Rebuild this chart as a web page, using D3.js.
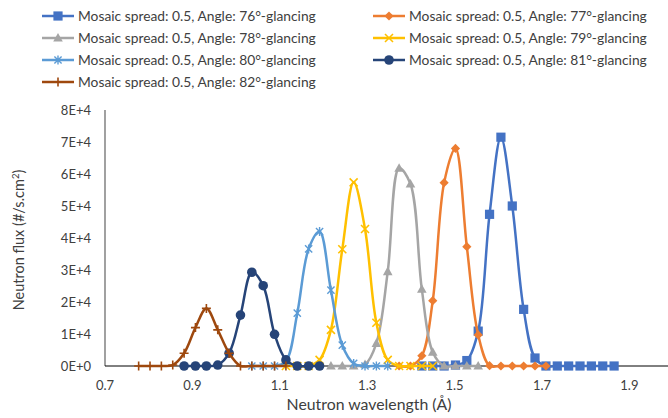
<!DOCTYPE html>
<html>
<head>
<meta charset="utf-8">
<script src="https://cdn.jsdelivr.net/npm/d3@7"></script>
<style>
  html, body { margin: 0; padding: 0; background: #fff; }
  svg { display: block; font-family: Lato, "Open Sans", "Liberation Sans", sans-serif; }
</style>
</head>
<body>
<svg id="chart" width="668" height="418"></svg>
<script>
// Wavelength (Å) and neutron flux (#/s.cm²) for each glancing angle, mosaic spread 0.5
const wl76   = [1.425,1.450,1.476,1.502,1.528,1.554,1.580,1.606,1.632,1.658,1.684,1.709,1.735,1.761,1.787,1.813,1.839,1.865];
const flux76 = [0,0,0,300,1700,10900,47400,71500,50000,17700,2500,0,0,0,0,0,0,0];

const wl77   = [1.373,1.399,1.425,1.450,1.476,1.502,1.528,1.554,1.580,1.606,1.632,1.658,1.684,1.709];
const flux77 = [0,0,3200,20400,57300,68000,37300,9700,100,0,0,0,0,0];

const wl78   = [1.217,1.243,1.269,1.295,1.321,1.347,1.373,1.399,1.425,1.450,1.476,1.502,1.528,1.554];
const flux78 = [0,0,0,500,7100,29500,61800,56900,24000,4300,0,0,0,0];

const wl79   = [1.114,1.140,1.166,1.191,1.217,1.243,1.269,1.295,1.321,1.347,1.373,1.399,1.425,1.450];
const flux79 = [0,0,0,1900,11300,36500,57400,42800,13500,1900,0,0,0,0];

const wl80   = [1.036,1.062,1.088,1.114,1.140,1.166,1.191,1.217,1.243,1.269,1.295,1.321,1.347];
const flux80 = [0,0,0,1500,16500,36600,42000,23700,6500,800,0,0,0];

const wl81   = [0.881,0.907,0.932,0.958,0.984,1.010,1.036,1.062,1.088,1.114,1.140,1.166,1.191];
const flux81 = [0,0,0,300,4000,15900,29300,25100,9900,1900,0,0,0];

const wl82   = [0.777,0.803,0.829,0.855,0.881,0.907,0.932,0.958,0.984,1.010,1.036,1.062,1.088,1.114];
const flux82 = [0,0,0,300,4000,12000,18000,11300,4000,0,0,0,0,0];

const seriesNames = [
  "Mosaic spread: 0.5, Angle: 76°-glancing",
  "Mosaic spread: 0.5, Angle: 77°-glancing",
  "Mosaic spread: 0.5, Angle: 78°-glancing",
  "Mosaic spread: 0.5, Angle: 79°-glancing",
  "Mosaic spread: 0.5, Angle: 80°-glancing",
  "Mosaic spread: 0.5, Angle: 81°-glancing",
  "Mosaic spread: 0.5, Angle: 82°-glancing"
];
const xTicks = [0.7, 0.9, 1.1, 1.3, 1.5, 1.7, 1.9];
const yTicks = [0, 10000, 20000, 30000, 40000, 50000, 60000, 70000, 80000];

// Styling per series
const colors  = ["#4472C4", "#ED7D31", "#A5A5A5", "#FFC000", "#5B9BD5", "#264478", "#9E480E"];
const markers = ["square", "diamond", "triangle", "x", "asterisk", "circle", "plus"];

const wls   = [wl76, wl77, wl78, wl79, wl80, wl81, wl82];
const fluxes = [flux76, flux77, flux78, flux79, flux80, flux81, flux82];
const series = seriesNames.map((name, i) => ({
  name, color: colors[i], marker: markers[i],
  points: wls[i].map((w, j) => ({ x: w, y: fluxes[i][j] }))
}));

const svg = d3.select("#chart");
const textColor = "#404040";

const x = d3.scaleLinear().domain([0.7, 2.0]).range([105, 105 + 1.3 * 437]);
const y = d3.scaleLinear().domain([0, 80000]).range([366, 110]);

function fitWidth(sel, target) {
  sel.each(function () {
    const cur = parseFloat(this.getAttribute("font-size"));
    const w = this.getComputedTextLength();
    if (w > 0) this.setAttribute("font-size", (cur * target / w).toFixed(2));
  });
}

// Marker drawing
function drawMarker(g, type, color, cx, cy) {
  const s = 4.6;
  switch (type) {
    case "square":
      g.append("rect").attr("x", cx - s).attr("y", cy - s).attr("width", 2 * s).attr("height", 2 * s)
        .attr("fill", color);
      break;
    case "diamond":
      g.append("path").attr("d", `M${cx},${cy - 4.6}L${cx + 4.6},${cy}L${cx},${cy + 4.6}L${cx - 4.6},${cy}Z`)
        .attr("fill", color);
      break;
    case "triangle":
      g.append("path").attr("d", `M${cx},${cy - 5}L${cx + 4.8},${cy + 3.6}L${cx - 4.8},${cy + 3.6}Z`)
        .attr("fill", color);
      break;
    case "circle":
      g.append("circle").attr("cx", cx).attr("cy", cy).attr("r", 4.8).attr("fill", color);
      break;
    case "x":
      g.append("path").attr("d", `M${cx - 4},${cy - 4}L${cx + 4},${cy + 4}M${cx - 4},${cy + 4}L${cx + 4},${cy - 4}`)
        .attr("stroke", color).attr("stroke-width", 1.6).attr("fill", "none");
      break;
    case "asterisk":
      g.append("path").attr("d", `M${cx - 3.6},${cy - 3.6}L${cx + 3.6},${cy + 3.6}M${cx - 3.6},${cy + 3.6}L${cx + 3.6},${cy - 3.6}M${cx},${cy - 4.5}L${cx},${cy + 4.5}`)
        .attr("stroke", color).attr("stroke-width", 1.4).attr("fill", "none");
      break;
    case "plus":
      g.append("path").attr("d", `M${cx - 4.5},${cy}L${cx + 4.5},${cy}M${cx},${cy - 4.5}L${cx},${cy + 4.5}`)
        .attr("stroke", color).attr("stroke-width", 1.6).attr("fill", "none");
      break;
  }
}

// Axes (drawn beneath the series)
svg.append("line").attr("x1", 105).attr("x2", 105).attr("y1", y(80000)).attr("y2", y(0))
  .attr("stroke", "#6e6e6e").attr("stroke-width", 1.3);
svg.append("line").attr("x1", 105).attr("x2", 668).attr("y1", y(0)).attr("y2", y(0))
  .attr("stroke", "#000").attr("stroke-width", 1);

svg.append("g").selectAll("text").data(yTicks).join("text")
  .attr("x", 91).attr("y", d => y(d)).attr("dy", "0.36em")
  .attr("text-anchor", "end").attr("font-size", 13).attr("fill", textColor)
  .text(d => d === 0 ? "0E+0" : (d / 10000) + "E+4");

svg.append("g").selectAll("text").data(xTicks).join("text")
  .attr("x", d => x(d)).attr("y", 390)
  .attr("text-anchor", "middle").attr("font-size", 13).attr("fill", textColor)
  .text(d => d.toFixed(1));

// Series: smoothed line plus markers, drawn in order
const line = d3.line().x(d => x(d.x)).y(d => y(d.y)).curve(d3.curveCatmullRom.alpha(0.5));
const plot = svg.append("g");
series.forEach(s => {
  const g = plot.append("g");
  g.append("path").attr("d", line(s.points)).attr("fill", "none")
    .attr("stroke", s.color).attr("stroke-width", 2.5).attr("stroke-linejoin", "round");
  s.points.forEach(p => drawMarker(g, s.marker, s.color, x(p.x), y(p.y)));
});

// Axis titles
const xt = svg.append("text").attr("x", 369).attr("y", 410).attr("text-anchor", "middle")
  .attr("font-size", 14.5).attr("fill", textColor).text("Neutron wavelength (Å)");
fitWidth(xt, 165);

const yt = svg.append("text").attr("transform", "translate(24,240) rotate(-90)")
  .attr("text-anchor", "middle").attr("font-size", 14.5).attr("fill", textColor);
yt.append("tspan").text("Neutron flux (#/s.cm");
yt.append("tspan").attr("font-size", 9.5).attr("dy", -5).text("2");
yt.append("tspan").attr("dy", 5).text(")");

// Legend
const legendPos = [
  [42, 16], [373, 16],
  [42, 38], [373, 38],
  [42, 60], [373, 60],
  [42, 82]
];
const legend = svg.append("g");
series.forEach((s, i) => {
  const [lx, ly] = legendPos[i];
  const g = legend.append("g");
  g.append("line").attr("x1", lx).attr("x2", lx + 32).attr("y1", ly).attr("y2", ly)
    .attr("stroke", s.color).attr("stroke-width", 2.5);
  drawMarker(g, s.marker, s.color, lx + 16, ly);
  g.append("text").attr("class", "legend-label").attr("x", lx + 36).attr("y", ly).attr("dy", "0.36em")
    .attr("font-size", 13.3).attr("fill", textColor).text(s.name);
});
fitWidth(legend.selectAll("text.legend-label"), 238);
</script>
</body>
</html>
